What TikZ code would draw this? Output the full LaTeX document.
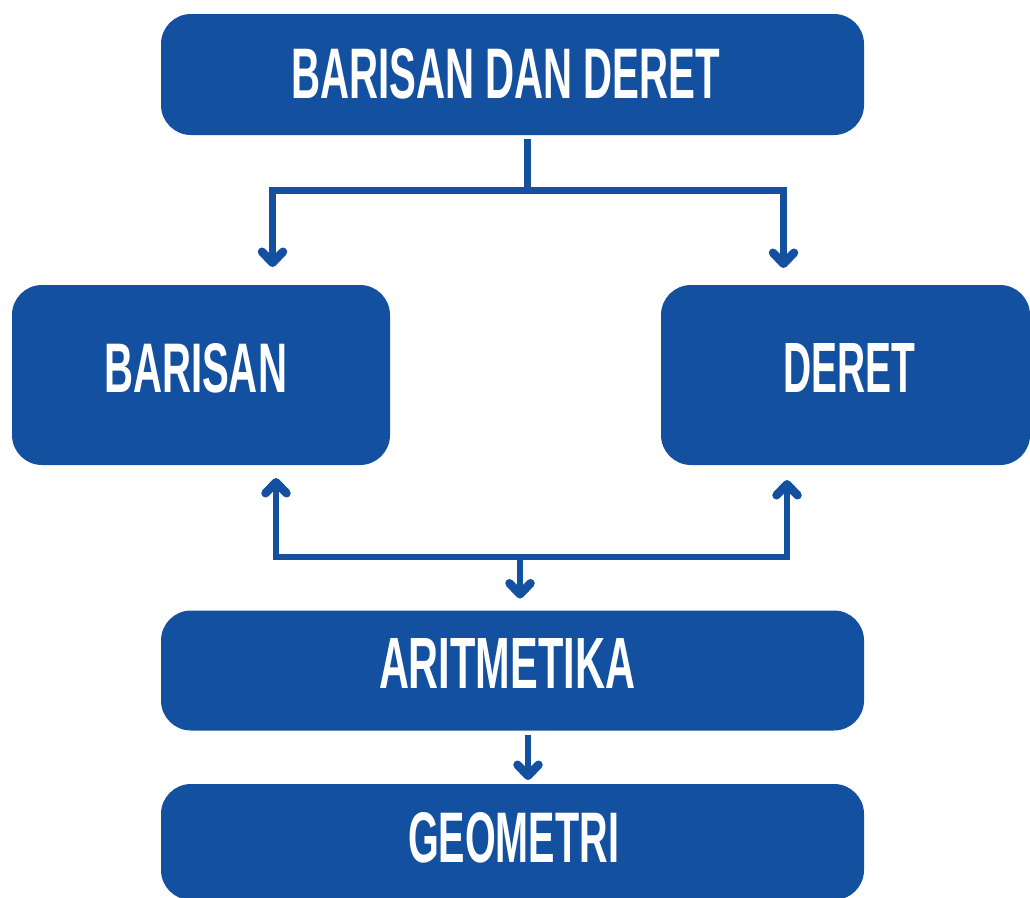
\documentclass[tikz,border=0pt]{standalone}
\usepackage{fontspec}
\usepackage{graphicx}
\setmainfont{Liberation Sans}
\usetikzlibrary{arrows.meta}
\definecolor{bluefill}{RGB}{20,80,160}
% dx,dy: left and bottom of the lettering, from the centre of the box
\newcommand{\boxlabel}[5]{\makebox[0pt][l]{\hspace*{#1pt}\raisebox{#2pt}[0pt][0pt]{\resizebox{#3pt}{#4pt}{\bfseries #5}}}}
\tikzset{
  blockbox/.style={fill=bluefill,text=white,rounded corners=30pt,inner sep=0pt,outer sep=0pt},
  link/.style={draw=bluefill,line width=6.6pt,line cap=butt},
  arrowlink/.style={link,-{Straight Barb[length=11pt,width=21pt,round,line width=8.5pt]}}
}
\begin{document}
\begin{tikzpicture}[x=1pt,y=-1pt]
\useasboundingbox (0,0) rectangle (1030,897);
\fill[white] (0,0) rectangle (1030,897);
% boxes
\node[blockbox,minimum width=703pt,minimum height=121pt] (top) at (512.5,74.5)
  {\boxlabel{-221.5}{-23.5}{429}{50}{BARISAN DAN DERET}};
\node[blockbox,minimum width=378pt,minimum height=180pt] (barisan) at (201,375)
  {\boxlabel{-97}{-17}{183}{49}{BARISAN}};
\node[blockbox,minimum width=369pt,minimum height=180pt] (deret) at (845.5,375)
  {\boxlabel{-62.5}{-17}{132}{49}{DERET}};
\node[blockbox,minimum width=703pt,minimum height=120pt] (arit) at (512.5,670.5)
  {\boxlabel{-133.5}{-17.5}{256}{50}{ARITMETIKA}};
\begin{scope}
\clip (0,0) rectangle (1030,897);
\node[blockbox,minimum width=703pt,minimum height=116pt] (geo) at (512.5,842)
  {\boxlabel{-104.5}{-20}{211}{50}{GEOMETRI}};
\end{scope}
% junction points
\coordinate (jt) at (527.5,190.5);
\coordinate (jtl) at (272.5,190.5);
\coordinate (jtr) at (783.5,190.5);
\coordinate (jb) at (520,557);
\coordinate (jbl) at (276,557);
\coordinate (jbr) at (787,557);
\coordinate (ja) at (528,670);
% connectors
\draw[link,shorten <=4pt] (top.south -| jt) -- (jt);
\draw[link,line cap=rect] (jtl) -- (jtr);
\draw[arrowlink,shorten >=18pt] (jtl) -- (jtl |- barisan.north);
\draw[arrowlink,shorten >=17pt] (jtr) -- (jtr |- deret.north);
\draw[link,line cap=rect] (jbl) -- (jbr);
\draw[arrowlink,shorten >=13pt] (jbl) -- (jbl |- barisan.south);
\draw[arrowlink,shorten >=15pt] (jbr) -- (jbr |- deret.south);
\draw[arrowlink,shorten >=12pt] (jb) -- (jb |- arit.north);
\draw[arrowlink,shorten <=4pt,shorten >=4pt] (ja |- arit.south) -- (ja |- geo.north);
\end{tikzpicture}
\end{document}
